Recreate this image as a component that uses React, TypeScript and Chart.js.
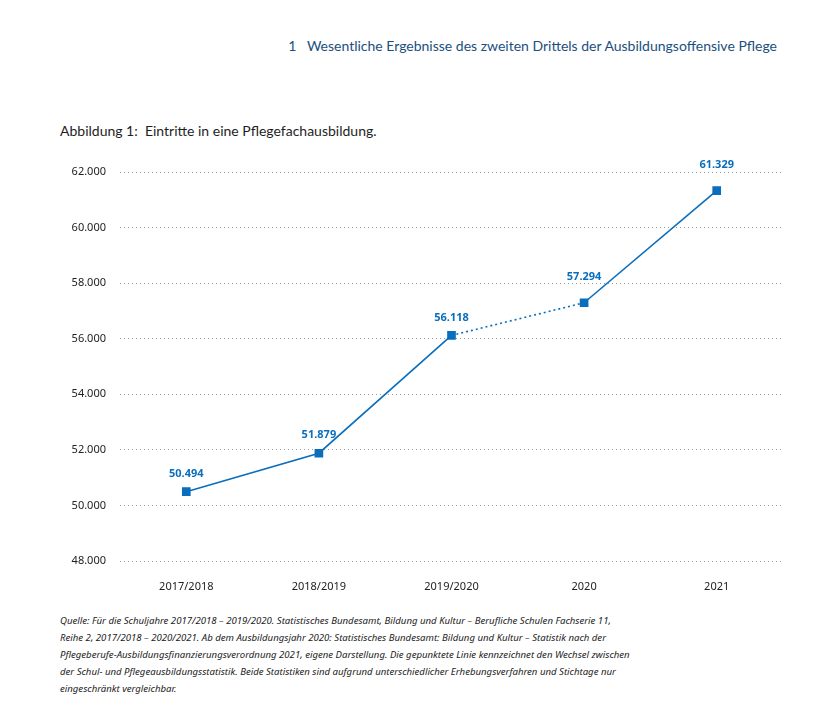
import React, { useEffect, useRef } from "react";
import { Chart, registerables } from "chart.js";

Chart.register(...registerables);

const categories = ["2017/2018", "2018/2019", "2019/2020", "2020", "2021"];
const entries = [50494, 51879, 56118, 57294, 61329];
const yTicks = [48000, 50000, 52000, 54000, 56000, 58000, 60000, 62000];
const dottedSegmentStart = 2;

const headerText = "1\u00a0\u00a0\u00a0Wesentliche Ergebnisse des zweiten Drittels der Ausbildungsoffensive Pflege";
const figureTitle = "Abbildung 1:\u00a0\u00a0Eintritte in eine Pflegefachausbildung.";
const sourceLines = [
  "Quelle: Für die Schuljahre 2017/2018 – 2019/2020. Statistisches Bundesamt, Bildung und Kultur – Berufliche Schulen Fachserie 11,",
  "Reihe 2, 2017/2018 – 2020/2021. Ab dem Ausbildungsjahr 2020: Statistisches Bundesamt: Bildung und Kultur – Statistik nach der",
  "Pflegeberufe-Ausbildungsfinanzierungsverordnung 2021, eigene Darstellung. Die gepunktete Linie kennzeichnet den Wechsel zwischen",
  "der Schul- und Pflegeausbildungsstatistik. Beide Statistiken sind aufgrund unterschiedlicher Erhebungsverfahren und Stichtage nur",
  "eingeschränkt vergleichbar.",
];

// styling: vertical gap (px) between each point and its value label
const LABEL_GAP = [18, 18, 18, 26, 26];

const BLUE = "#0a6ebd";
const FONT = "'Noto Sans', 'DejaVu Sans', sans-serif";
const HEAD_FONT = "Lato, 'Noto Sans', sans-serif";

const fmt = (v: number) => v.toLocaleString("de-DE");

export default function App() {
  const ref = useRef<HTMLCanvasElement | null>(null);

  useEffect(() => {
    document.body.style.margin = "0";
    const labelPlugin = {
      id: "valueLabels",
      afterDatasetsDraw(chart: any) {
        const ctx = chart.ctx;
        const meta = chart.getDatasetMeta(0);
        ctx.save();
        ctx.font = `bold 11px ${FONT}`;
        ctx.fillStyle = BLUE;
        ctx.textAlign = "center";
        ctx.textBaseline = "middle";
        meta.data.forEach((pt: any, i: number) => {
          ctx.fillText(fmt(entries[i]), pt.x, pt.y - LABEL_GAP[i]);
        });
        ctx.restore();
      },
    };
    const chart = new Chart(ref.current!, {
      type: "line",
      data: {
        labels: categories,
        datasets: [
          {
            data: entries,
            borderColor: BLUE,
            backgroundColor: BLUE,
            borderWidth: 1.6,
            pointStyle: "rect",
            pointRadius: 5,
            pointHoverRadius: 5,
            tension: 0,
            segment: {
              borderDash: (c: any) => (c.p0DataIndex === dottedSegmentStart ? [2, 3] : undefined),
            },
          },
        ],
      },
      plugins: [labelPlugin],
      options: {
        animation: false,
        responsive: false,
        maintainAspectRatio: false,
        layout: { padding: { top: 22, right: 37, left: 0, bottom: 0 } },
        plugins: { legend: { display: false }, tooltip: { enabled: false } },
        scales: {
          x: {
            offset: true,
            grid: { display: false, drawTicks: false },
            border: { display: false },
            ticks: { color: "#222", font: { family: FONT, size: 11 }, padding: 19 },
            afterFit: (s: any) => {
              s.height = 39;
            },
          },
          y: {
            min: 48000,
            max: 62000,
            afterBuildTicks: (s: any) => {
              s.ticks = yTicks.map((v) => ({ value: v }));
            },
            grid: {
              color: "#9a9a9a",
              lineWidth: 1,
              drawTicks: false,
            },
            border: { display: false, dash: [1, 3] },
            ticks: {
              color: "#222",
              font: { family: FONT, size: 11 },
              padding: 14,
              callback: (v: any) => fmt(Number(v)),
            },
            afterFit: (s: any) => {
              s.width = 120;
            },
          },
        },
      },
    });
    return () => chart.destroy();
  }, []);

  return (
    <div style={{ position: "relative", width: 820, height: 708, background: "#fff", fontFamily: FONT }}>
      <div
        style={{
          position: "absolute",
          right: 43,
          top: 37,
          fontSize: 14,
          fontFamily: HEAD_FONT,
          color: "#1b4f7e",
          whiteSpace: "nowrap",
        }}
      >
        {headerText}
      </div>
      <div
        style={{
          position: "absolute",
          left: 60,
          top: 122,
          fontSize: 14,
          fontFamily: HEAD_FONT,
          color: "#1e1e1e",
          whiteSpace: "nowrap",
        }}
      >
        {figureTitle}
      </div>
      <canvas ref={ref} width={820} height={450} style={{ position: "absolute", left: 0, top: 150 }} />
      <div
        style={{
          position: "absolute",
          left: 60,
          top: 612,
          fontSize: 9.6,
          lineHeight: "17px",
          fontStyle: "italic",
          color: "#222",
          whiteSpace: "nowrap",
        }}
      >
        {sourceLines.map((l, i) => (
          <div key={i}>{l}</div>
        ))}
      </div>
    </div>
  );
}
